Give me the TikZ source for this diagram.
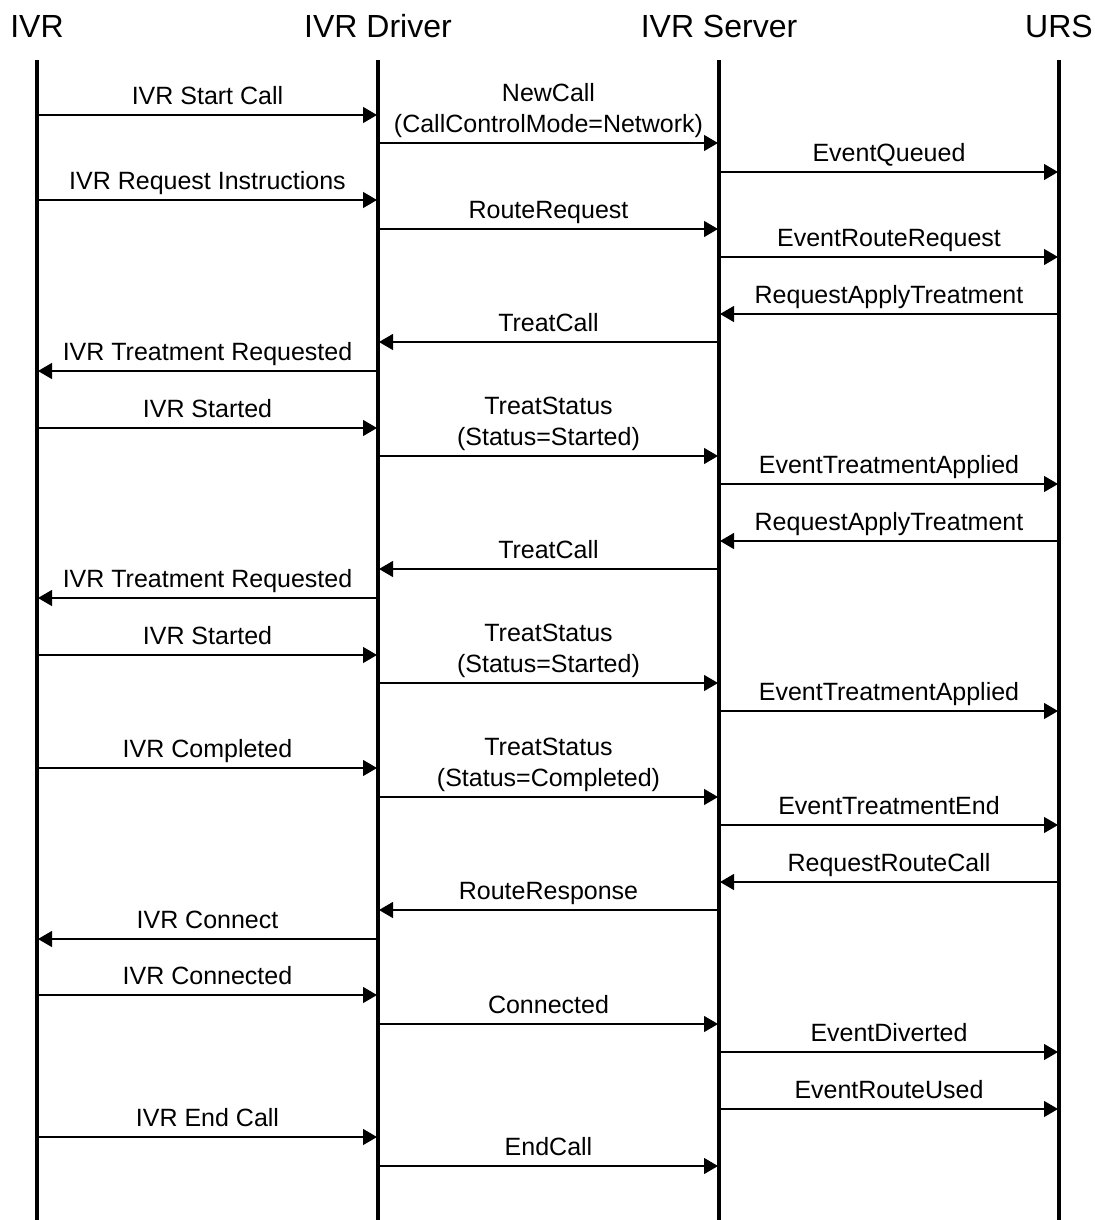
\documentclass[tikz,border=0pt]{standalone}
\usepackage{fontspec}
\setmainfont{Liberation Sans}
\usetikzlibrary{arrows.meta}
\tikzset{
  life/.style={line width=1.6pt,black},
  msg/.style={-{Triangle[length=7pt,width=8pt]},line width=0.6pt,black,shorten >=0.5pt},
  head/.style={font=\fontsize{16}{19}\selectfont,inner sep=0pt,anchor=base},
  lbl/.style={font=\fontsize{12.5}{15.5}\selectfont,align=center,anchor=south,
              inner sep=0pt,text depth=0pt,yshift=5pt},
}
\begin{document}
\begin{tikzpicture}[x=0.5pt,y=-0.5pt]
  \useasboundingbox (0,0) rectangle (1094,1220);
  % lifelines
  \node[head] (ivr) at (37,38) {IVR};
  \node[head] (drv) at (378,38) {IVR Driver};
  \node[head] (srv) at (719,38) {IVR Server};
  \node[head] (urs) at (1059,38) {URS};
  \foreach \n in {ivr,drv,srv,urs} {
    \coordinate (\n top) at (\n |- 0,60);
    \coordinate (\n bot) at (\n |- 0,1220);
    \draw[life] (\n top) -- (\n bot);
  }
  % messages
  \foreach \y/\from/\to/\txt [count=\i] in {
      115/ivr/drv/{IVR Start Call},
      143/drv/srv/{NewCall\\(CallControlMode=Network)},
      172/srv/urs/{EventQueued},
      200/ivr/drv/{IVR Request Instructions},
      229/drv/srv/{RouteRequest},
      257/srv/urs/{EventRouteRequest},
      314/urs/srv/{RequestApplyTreatment},
      342/srv/drv/{TreatCall},
      371/drv/ivr/{IVR Treatment Requested},
      428/ivr/drv/{IVR Started},
      456/drv/srv/{TreatStatus\\(Status=Started)},
      484/srv/urs/{EventTreatmentApplied},
      541/urs/srv/{RequestApplyTreatment},
      569/srv/drv/{TreatCall},
      598/drv/ivr/{IVR Treatment Requested},
      655/ivr/drv/{IVR Started},
      683/drv/srv/{TreatStatus\\(Status=Started)},
      711/srv/urs/{EventTreatmentApplied},
      768/ivr/drv/{IVR Completed},
      797/drv/srv/{TreatStatus\\(Status=Completed)},
      825/srv/urs/{EventTreatmentEnd},
      882/urs/srv/{RequestRouteCall},
      910/srv/drv/{RouteResponse},
      939/drv/ivr/{IVR Connect},
      995/ivr/drv/{IVR Connected},
      1024/drv/srv/{Connected},
      1052/srv/urs/{EventDiverted},
      1109/srv/urs/{EventRouteUsed},
      1137/ivr/drv/{IVR End Call},
      1166/drv/srv/{EndCall}} {
    \coordinate (a\i) at (\from |- 0,\y);
    \coordinate (b\i) at (\to |- 0,\y);
    \draw[msg] (a\i) -- (b\i) node[lbl,midway] {\txt};
  }
\end{tikzpicture}
\end{document}
